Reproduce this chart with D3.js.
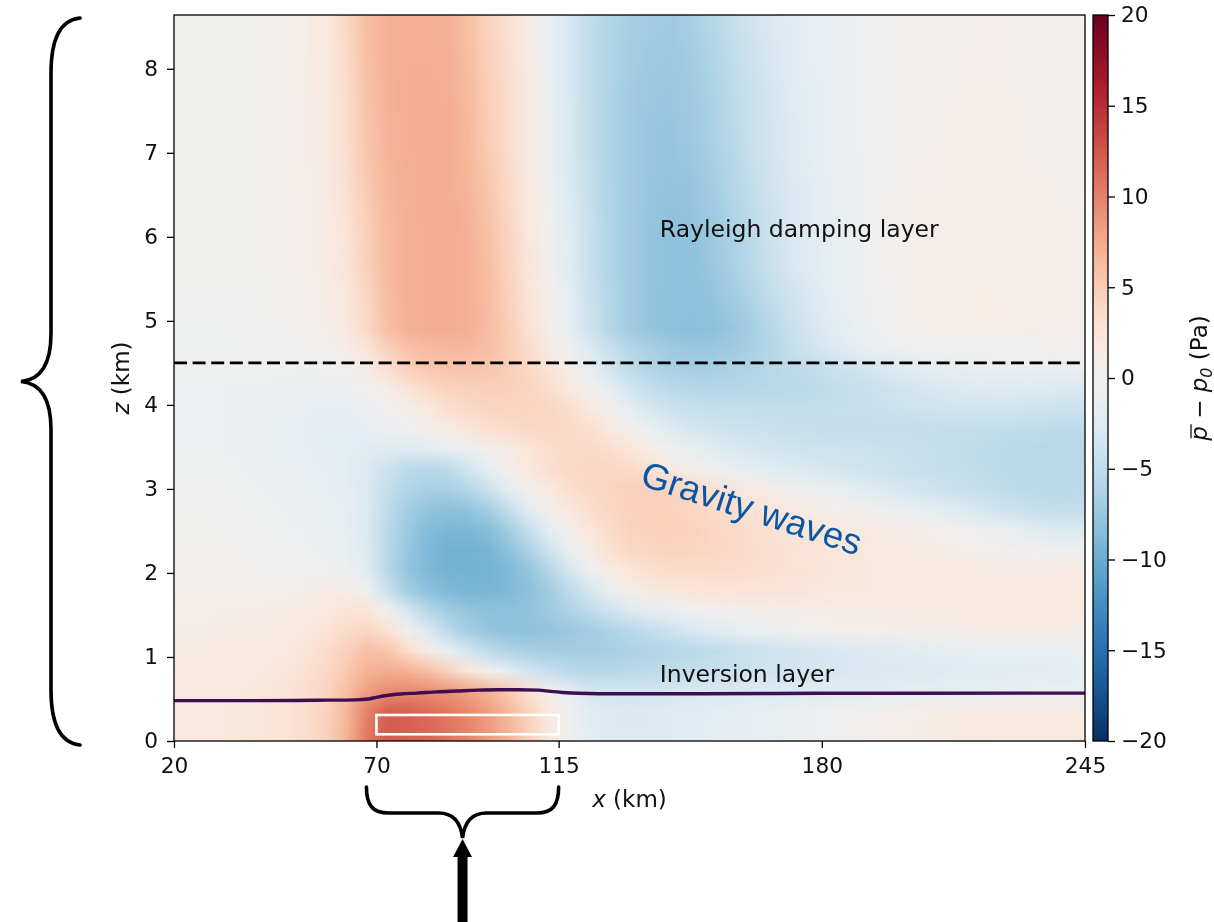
<!DOCTYPE html>
<html>
<head>
<meta charset="utf-8">
<title>Mean pressure perturbation</title>
<script src="https://cdn.jsdelivr.net/npm/d3@7"></script>
<style>
  html, body { margin: 0; padding: 0; background: #fff; overflow: hidden; }
  #wrap { position: relative; width: 1214px; height: 922px; }
  #heat { position: absolute; }
  #chart { position: absolute; left: 0; top: 0; }
</style>
</head>
<body>
<div id="wrap">
  <canvas id="heat"></canvas>
  <svg id="chart" width="1214" height="922"></svg>
</div>
<script>
// ---------------------------------------------------------------------------
// Data
// ---------------------------------------------------------------------------
// Cell centres of the pressure field along x (km)
const xKm = [22.5, 27.5, 32.5, 37.5, 42.5, 47.5, 52.5, 57.5, 62.5, 67.5,
  72.5, 77.5, 82.5, 87.5, 92.5, 97.5, 102.5, 107.5, 112.5, 117.5,
  122.5, 127.5, 132.5, 137.5, 142.5, 147.5, 152.5, 157.5, 162.5, 167.5,
  172.5, 177.5, 182.5, 187.5, 192.5, 197.5, 202.5, 207.5, 212.5, 217.5,
  222.5, 227.5, 232.5, 237.5, 242.5];

// Cell centres along z (km), from the model top downwards
const zKm = [8.52, 8.28, 8.04, 7.80, 7.56, 7.32, 7.08, 6.84, 6.60, 6.36,
  6.12, 5.88, 5.64, 5.40, 5.16, 4.92, 4.68, 4.44, 4.20, 3.96,
  3.72, 3.48, 3.24, 3.00, 2.76, 2.52, 2.28, 2.04, 1.80, 1.56,
  1.32, 1.08, 0.84, 0.60, 0.36, 0.12];

// Mean pressure perturbation p̄ − p0 (Pa); one row per zKm entry, one value per xKm entry
const pressureRows = [
  [-0.3,-0.3,-0.3,-0.2,0,0.4,1,2,3.8,6,7,7.2,7.2,7,6,4.3,3,1,-1.3,-3,-4.8,-5.9,-6.6,-7,-7.1,-6.6,-5.7,-4.7,-3.7,-2.9,-2.2,-1.6,-1.1,-0.7,-0.4,-0.1,0.2,0.3,0.3,0.4,0.4,0.4,0.3,0.3,0.2],
  [-0.3,-0.3,-0.3,-0.2,0,0.4,1,2,3.7,6,7,7.2,7.2,7,6.1,4.4,3.1,1.1,-1.2,-3,-4.9,-6,-6.7,-7.1,-7.2,-6.8,-5.9,-4.9,-3.9,-3,-2.3,-1.7,-1.1,-0.7,-0.4,-0.1,0.2,0.3,0.4,0.4,0.4,0.4,0.3,0.3,0.2],
  [-0.3,-0.3,-0.3,-0.2,0,0.4,0.9,1.9,3.6,5.9,7,7.2,7.2,7.1,6.2,4.5,3.2,1.2,-1.1,-3,-4.9,-6,-6.8,-7.2,-7.3,-7,-6.1,-5,-4.1,-3.1,-2.3,-1.7,-1.2,-0.7,-0.4,-0.1,0.2,0.3,0.4,0.4,0.4,0.4,0.3,0.3,0.2],
  [-0.3,-0.3,-0.3,-0.2,0,0.3,0.9,1.8,3.5,5.8,6.9,7.2,7.3,7.1,6.3,4.7,3.3,1.3,-1,-3,-4.8,-6,-6.9,-7.3,-7.4,-7,-6.3,-5.2,-4.2,-3.3,-2.4,-1.8,-1.2,-0.8,-0.4,-0.1,0.2,0.3,0.4,0.5,0.5,0.4,0.4,0.3,0.3],
  [-0.3,-0.3,-0.3,-0.2,0,0.3,0.8,1.8,3.4,5.7,6.9,7.2,7.3,7.2,6.4,4.8,3.3,1.4,-1,-2.9,-4.8,-6.1,-7,-7.4,-7.5,-7.1,-6.4,-5.3,-4.3,-3.4,-2.5,-1.8,-1.3,-0.8,-0.4,0,0.3,0.4,0.5,0.5,0.5,0.5,0.4,0.3,0.3],
  [-0.3,-0.3,-0.3,-0.2,0,0.3,0.8,1.7,3.3,5.6,6.8,7.2,7.3,7.2,6.5,4.9,3.4,1.5,-0.9,-2.9,-4.8,-6.1,-7,-7.5,-7.6,-7.2,-6.4,-5.4,-4.4,-3.5,-2.6,-1.9,-1.3,-0.8,-0.4,0,0.3,0.4,0.5,0.5,0.5,0.5,0.4,0.3,0.3],
  [-0.3,-0.3,-0.3,-0.2,0,0.3,0.8,1.7,3.2,5.5,6.8,7.2,7.3,7.2,6.5,5,3.4,1.5,-0.9,-2.9,-4.8,-6.1,-7,-7.5,-7.7,-7.3,-6.5,-5.5,-4.4,-3.5,-2.6,-1.9,-1.3,-0.8,-0.4,0,0.3,0.4,0.5,0.5,0.5,0.5,0.4,0.3,0.3],
  [-0.3,-0.3,-0.3,-0.2,0,0.3,0.7,1.6,3.1,5.3,6.7,7.1,7.3,7.2,6.6,5.2,3.6,1.6,-0.8,-2.8,-4.7,-6.1,-7,-7.5,-7.7,-7.5,-6.7,-5.7,-4.6,-3.6,-2.7,-2,-1.4,-0.9,-0.4,0,0.3,0.5,0.5,0.6,0.6,0.5,0.4,0.4,0.3],
  [-0.3,-0.3,-0.3,-0.2,0,0.3,0.7,1.5,3,5.1,6.6,7.1,7.3,7.2,6.7,5.4,3.8,1.8,-0.6,-2.7,-4.6,-6,-7,-7.6,-7.8,-7.7,-6.9,-5.8,-4.8,-3.7,-2.8,-2.1,-1.4,-0.9,-0.4,0,0.4,0.5,0.6,0.6,0.6,0.6,0.5,0.4,0.3],
  [-0.3,-0.3,-0.3,-0.2,0,0.2,0.6,1.4,2.8,4.9,6.5,7.1,7.3,7.3,6.8,5.6,3.9,1.9,-0.4,-2.5,-4.5,-6,-7,-7.6,-7.9,-7.7,-7.1,-6.1,-5,-3.9,-3,-2.2,-1.5,-0.9,-0.4,0.1,0.4,0.6,0.7,0.7,0.7,0.6,0.5,0.4,0.4],
  [-0.3,-0.3,-0.3,-0.3,0,0.2,0.6,1.3,2.7,4.7,6.4,7,7.3,7.3,6.9,5.8,4.1,2,-0.3,-2.3,-4.4,-5.9,-7,-7.7,-8,-7.9,-7.3,-6.3,-5.2,-4,-3,-2.2,-1.5,-0.9,-0.4,0.1,0.5,0.6,0.7,0.7,0.7,0.7,0.6,0.5,0.4],
  [-0.3,-0.3,-0.3,-0.3,-0.1,0.2,0.5,1.2,2.6,4.6,6.3,7,7.3,7.3,7,5.9,4.2,2.1,-0.1,-2.3,-4.4,-5.9,-7,-7.7,-8,-8,-7.4,-6.4,-5.3,-4.1,-3,-2.3,-1.5,-0.9,-0.4,0.1,0.5,0.7,0.8,0.8,0.8,0.7,0.6,0.5,0.4],
  [-0.3,-0.3,-0.3,-0.3,-0.1,0.2,0.5,1.2,2.5,4.5,6.3,7,7.3,7.3,7,6,4.3,2.2,0,-2.2,-4.4,-5.9,-7,-7.7,-8,-8,-7.5,-6.5,-5.4,-4.2,-3.1,-2.3,-1.5,-0.9,-0.4,0.1,0.5,0.7,0.8,0.8,0.8,0.7,0.6,0.5,0.4],
  [-0.3,-0.3,-0.3,-0.3,-0.2,0.1,0.4,1,2.2,4.2,6.2,7,7.3,7.3,7,6.1,4.5,2.4,0.2,-2,-4.2,-5.8,-7,-7.7,-8,-8.1,-7.7,-6.9,-5.8,-4.6,-3.6,-2.6,-1.7,-1,-0.5,0,0.5,0.7,0.8,0.9,0.9,0.8,0.7,0.5,0.4],
  [-0.4,-0.4,-0.4,-0.3,-0.2,0,0.3,0.9,2,4,6.1,7,7.3,7.3,7,6.2,4.6,2.6,0.4,-1.8,-4,-5.7,-7,-7.7,-8.1,-8.2,-7.9,-7.2,-6.3,-5,-3.9,-2.9,-2,-1.2,-0.5,0,0.5,0.7,0.9,1,1,0.9,0.8,0.6,0.5],
  [-0.4,-0.4,-0.4,-0.4,-0.3,-0.1,0.2,0.8,1.8,3.8,6,7,7.3,7.3,7,6.2,4.8,2.8,0.5,-1.7,-3.9,-5.7,-7,-7.7,-8.1,-8.3,-8.1,-7.6,-6.7,-5.5,-4.4,-3.2,-2.3,-1.4,-0.7,-0.1,0.4,0.7,0.9,1,1,0.9,0.8,0.6,0.5],
  [-0.5,-0.5,-0.5,-0.5,-0.5,-0.4,-0.2,0.2,1,2.5,4.5,5.8,6.3,6.5,6.5,6,5,3.5,1.5,-0.7,-2.6,-4.4,-5.7,-6.5,-7.1,-7.5,-7.5,-7.1,-6.5,-5.7,-4.6,-3.7,-2.8,-2,-1.3,-0.8,-0.5,-0.3,-0.2,-0.2,-0.2,-0.2,-0.2,-0.1,0],
  [-0.6,-0.6,-0.6,-0.6,-0.6,-0.6,-0.6,-0.5,0,1.2,3,4.5,5.3,5.6,5.6,5.4,4.8,3.8,2.5,0.8,-1.5,-3.5,-5,-6,-6.5,-6.7,-6.6,-6.3,-6,-5.6,-5.2,-4.8,-4.3,-3.8,-3.2,-2.6,-2.2,-1.8,-1.5,-1.3,-1.2,-1.2,-1.2,-1.2,-1.2],
  [-0.7,-0.7,-0.7,-0.7,-0.8,-0.9,-1,-1.1,-0.9,-0.2,1,2.5,3.6,4.3,4.6,4.7,4.6,4.2,3.3,2,0.3,-1.8,-3.5,-4.7,-5.3,-5.6,-5.7,-5.7,-5.6,-5.5,-5.4,-5.2,-4.9,-4.6,-4.2,-3.8,-3.4,-3.1,-2.8,-2.6,-2.5,-2.5,-2.6,-2.7,-2.8],
  [-0.7,-0.7,-0.8,-0.9,-1,-1.2,-1.4,-1.6,-1.5,-1,-0.2,0.8,2,3,3.7,4.1,4.3,4.3,4,3.2,1.8,0,-1.8,-3.2,-4,-4.4,-4.6,-4.7,-4.7,-4.7,-4.7,-4.7,-4.6,-4.5,-4.4,-4.2,-4,-3.8,-3.7,-3.6,-3.6,-3.7,-3.8,-4,-4.1],
  [-0.7,-0.7,-0.8,-0.9,-1.1,-1.3,-1.6,-1.9,-2,-1.8,-1,-0.2,0.5,1.4,2.3,3,3.5,3.8,3.9,3.7,3,1.8,0.3,-1.2,-2.4,-3.2,-3.6,-3.9,-4.1,-4.3,-4.5,-4.6,-4.7,-4.7,-4.7,-4.7,-4.7,-4.7,-4.7,-4.7,-4.8,-4.9,-5,-5.1,-5.2],
  [-0.6,-0.6,-0.7,-0.8,-1,-1.2,-1.5,-1.8,-2,-2.2,-2.5,-2.5,-2.2,-1.6,-0.8,0.2,1.3,2.4,3.2,3.6,3.6,3.2,2.3,1,-0.3,-1.4,-2.2,-2.8,-3.2,-3.5,-3.7,-3.9,-4,-4.1,-4.2,-4.3,-4.4,-4.6,-4.8,-5,-5.2,-5.4,-5.5,-5.6,-5.5],
  [-0.5,-0.5,-0.6,-0.7,-0.9,-1.1,-1.4,-1.7,-2,-2.7,-4,-5.2,-5.6,-5.1,-3.7,-1.7,0.4,2,3,3.7,4,4,3.6,2.8,1.7,0.6,-0.4,-1.2,-1.8,-2.3,-2.7,-3,-3.3,-3.6,-3.9,-4.1,-4.3,-4.5,-4.7,-4.9,-5.1,-5.3,-5.4,-5.5,-5.4],
  [-0.4,-0.4,-0.5,-0.6,-0.7,-0.9,-1.2,-1.5,-1.9,-2.8,-4.6,-5.9,-6.5,-6.5,-5.7,-4.1,-1.8,0.2,1.8,3,3.8,4.3,4.5,4.4,4.1,3.6,3,2.4,1.6,0.8,0,-0.7,-1.3,-1.9,-2.5,-3,-3.5,-3.9,-4.2,-4.5,-4.8,-5.1,-5.3,-5.4,-5.3],
  [-0.3,-0.3,-0.4,-0.5,-0.6,-0.7,-1,-1.3,-1.7,-2.8,-5,-6.8,-7.8,-8.1,-7.8,-6.8,-4.7,-2,0.3,2,3.2,4,4.5,4.6,4.5,4.1,3.6,3.1,2.7,2.2,1.6,1.1,0.6,0.2,-0.3,-0.8,-1.3,-1.8,-2.4,-3,-3.6,-4.1,-4.5,-4.7,-4.7],
  [-0.2,-0.2,-0.3,-0.4,-0.5,-0.6,-0.8,-1.1,-1.5,-2.8,-5.3,-7.2,-8.6,-9,-9,-8.4,-6.8,-4.5,-1.8,0.5,2.3,3.5,4.3,4.6,4.6,4.4,4,3.6,3.2,2.8,2.5,2.1,1.8,1.6,1.4,1.1,0.8,0.4,0,-0.5,-1.1,-1.7,-2.2,-2.6,-2.8],
  [-0.1,-0.1,-0.2,-0.3,-0.4,-0.5,-0.6,-0.9,-1.3,-2.6,-5.4,-7.5,-8.8,-9.5,-9.5,-9.2,-8.1,-6.3,-3.8,-1.1,1.2,2.8,3.8,4.2,4.3,4.2,4,3.7,3.4,3.1,2.8,2.5,2.2,2,1.8,1.6,1.4,1.2,1,0.7,0.4,0.1,-0.2,-0.4,-0.5],
  [0,0,0,-0.1,-0.2,-0.3,-0.4,-0.6,-1,-2.3,-5.4,-7.7,-8.8,-9.4,-9.5,-9.4,-8.8,-7.7,-5.8,-3.2,-0.7,1.2,2.4,3,3.3,3.4,3.4,3.3,3.2,3,2.8,2.6,2.4,2.2,2,1.9,1.8,1.7,1.6,1.6,1.5,1.5,1.4,1.4,1.3],
  [0.4,0.4,0.5,0.5,0.6,0.7,0.9,1.1,1.1,-0.5,-4.1,-6.8,-8.1,-8.8,-9.2,-9.2,-8.8,-8.1,-7,-5.2,-3.2,-1.1,0.6,1.7,2.2,2.4,2.5,2.5,2.5,2.4,2.3,2.2,2.1,2,1.9,1.8,1.8,1.7,1.7,1.7,1.7,1.7,1.6,1.6,1.6],
  [0.7,0.7,0.8,0.9,1,1.1,1.4,1.9,2.6,2.3,0,-3.2,-5.6,-7,-7.7,-8.1,-8.1,-7.8,-7.2,-6.1,-5,-3.8,-2.7,-2,-1.2,-0.5,0,0.3,0.5,0.7,0.9,1,1.1,1.2,1.3,1.4,1.5,1.6,1.7,1.8,1.8,1.8,1.8,1.8,1.8],
  [1,1,1.1,1.2,1.3,1.5,1.9,2.6,3.5,4,2.8,0.2,-2.8,-5.2,-6.8,-7.6,-8,-8,-7.8,-7.4,-6.9,-6.2,-5.5,-4.7,-3.9,-3.1,-2.4,-1.8,-1.3,-0.9,-0.5,-0.2,0,0.2,0.4,0.5,0.6,0.7,0.8,0.9,1,1,1,1,1],
  [1.3,1.3,1.4,1.5,1.7,2,2.5,3.3,4.5,6,5.5,3.5,1,-1.5,-3.5,-5,-6,-6.5,-6.7,-6.8,-6.8,-6.6,-6.3,-6,-5.7,-5.4,-5,-4.6,-4.2,-3.9,-3.6,-3.3,-3,-2.8,-2.6,-2.4,-2.2,-2,-1.8,-1.7,-1.6,-1.5,-1.4,-1.4,-1.3],
  [1.6,1.6,1.7,1.8,2,2.3,2.9,3.8,5.2,6.8,7.3,7,6,4.3,2.2,0,-2,-3.5,-4.5,-5.3,-5.6,-5.6,-5.4,-5.1,-4.8,-4.6,-4.4,-4.2,-4,-3.8,-3.6,-3.4,-3.2,-3,-2.9,-2.8,-2.7,-2.6,-2.5,-2.4,-2.3,-2.2,-2.2,-2.1,-2],
  [1.8,1.8,1.9,2,2.2,2.6,3.2,4.2,6,8.2,9.3,9.5,9.3,8.8,8,6.8,5,2.8,0.5,-1.8,-3.2,-3.6,-3.6,-3.5,-3.3,-3.1,-2.9,-2.8,-2.7,-2.6,-2.5,-2.4,-2.3,-2.2,-2.1,-2,-1.9,-1.8,-1.7,-1.6,-1.5,-1.4,-1.3,-1.2,-1.1],
  [1.9,1.9,2,2.1,2.3,2.7,3.3,4.3,6.5,10,11.8,11.8,11.2,10.5,9.5,8.2,6.5,4.3,1.8,-0.5,-2.2,-2.7,-2.8,-2.7,-2.5,-2.3,-2.1,-1.9,-1.7,-1.4,-1.1,-0.8,-0.5,-0.2,0.1,0.4,0.7,1,1.2,1.4,1.5,1.6,1.6,1.6,1.6],
  [1.9,1.9,2,2.1,2.3,2.7,3.3,4.4,6.8,10.5,12.2,12,11.5,10.8,9.8,8.5,6.8,4.5,2,-0.3,-2,-2.6,-2.7,-2.6,-2.4,-2.2,-2,-1.8,-1.6,-1.3,-1,-0.7,-0.4,-0.1,0.2,0.5,0.8,1.1,1.3,1.5,1.6,1.7,1.7,1.7,1.7]
];

// Height of the inversion (km) along x (km)
const inversionX = [20, 40, 55, 65, 68, 70, 73, 76, 80, 85, 90, 95, 100, 105, 110, 113, 116, 120, 130, 150, 180, 245];
const inversionZ = [0.48, 0.48, 0.485, 0.49, 0.50, 0.52, 0.545, 0.56, 0.57, 0.585, 0.595, 0.605, 0.61, 0.61, 0.605, 0.59, 0.578, 0.568, 0.562, 0.562, 0.568, 0.57];

// Base of the Rayleigh damping layer (km)
const dampingBaseKm = [4.5];

// Forcing region: x extent (km) and z extent (km)
const forcingX = [70, 115];
const forcingZ = [0.08, 0.31];

const xTickValues = [20, 70, 115, 180, 245];
const zTickValues = [0, 1, 2, 3, 4, 5, 6, 7, 8];
const colorTickValues = [-20, -15, -10, -5, 0, 5, 10, 15, 20];
const xDomain = [20, 245];
const zDomain = [0, 8.64];
const colorDomain = [-20, 20];

// ---------------------------------------------------------------------------
// Scales
// ---------------------------------------------------------------------------
const plot = { left: 174, right: 1085, top: 15, bottom: 741 };
const x = d3.scaleLinear().domain(xDomain).range([plot.left, plot.right]);
const y = d3.scaleLinear().domain(zDomain).range([plot.bottom, plot.top]);
const color = d3.scaleSequential(d3.interpolateRdBu).domain([colorDomain[1], colorDomain[0]]);

const TEXT_FONT = '"DejaVu Sans", "Liberation Sans", sans-serif';
const INK = '#111';

// ---------------------------------------------------------------------------
// Pressure field: one texel per cell, scaled smoothly onto the axes
// ---------------------------------------------------------------------------
(function drawField() {
  const nx = xKm.length, nz = zKm.length;
  const dx = xKm[1] - xKm[0];
  const dz = zKm[0] - zKm[1];
  const small = document.createElement('canvas');
  small.width = nx; small.height = nz;
  const sctx = small.getContext('2d');
  const img = sctx.createImageData(nx, nz);
  pressureRows.forEach((row, j) => {
    row.forEach((v, i) => {
      const c = d3.rgb(color(v));
      const k = (j * nx + i) * 4;
      img.data[k] = c.r; img.data[k + 1] = c.g; img.data[k + 2] = c.b; img.data[k + 3] = 255;
    });
  });
  sctx.putImageData(img, 0, 0);

  const x0 = x(xKm[0] - dx / 2), x1 = x(xKm[nx - 1] + dx / 2);
  const y0 = y(zKm[0] + dz / 2), y1 = y(zKm[nz - 1] - dz / 2);
  const cv = document.getElementById('heat');
  const w = Math.round(x1 - x0), h = Math.round(y1 - y0);
  cv.width = w; cv.height = h;
  cv.style.left = x0 + 'px';
  cv.style.top = y0 + 'px';
  cv.style.width = w + 'px';
  cv.style.height = h + 'px';
  const ctx = cv.getContext('2d');
  ctx.imageSmoothingEnabled = true;
  ctx.imageSmoothingQuality = 'low';
  ctx.drawImage(small, 0, 0, w, h);
})();

// ---------------------------------------------------------------------------
// Overlay
// ---------------------------------------------------------------------------
const svg = d3.select('#chart');
const defs = svg.append('defs');

// Inversion height
svg.append('path')
  .datum(inversionX.map((d, i) => [d, inversionZ[i]]))
  .attr('d', d3.line().x(d => x(d[0])).y(d => y(d[1])).curve(d3.curveMonotoneX))
  .attr('fill', 'none')
  .attr('stroke', '#3f0d52')
  .attr('stroke-width', 3.4);

// Forcing region outline
svg.append('rect')
  .attr('x', x(forcingX[0]))
  .attr('y', y(forcingZ[1]))
  .attr('width', x(forcingX[1]) - x(forcingX[0]))
  .attr('height', y(forcingZ[0]) - y(forcingZ[1]))
  .attr('fill', 'none')
  .attr('stroke', '#fff')
  .attr('stroke-width', 2.6);

// Damping layer base
svg.selectAll('line.damping')
  .data(dampingBaseKm)
  .join('line')
  .attr('class', 'damping')
  .attr('x1', x(xDomain[0])).attr('x2', x(xDomain[1]))
  .attr('y1', d => y(d)).attr('y2', d => y(d))
  .attr('stroke', '#000')
  .attr('stroke-width', 2.8)
  .attr('stroke-dasharray', '13,5.6');

// Annotations
svg.append('text')
  .attr('x', x(140)).attr('y', y(6.0))
  .attr('font-family', TEXT_FONT).attr('font-size', 23.5).attr('fill', INK)
  .text('Rayleigh damping layer');

svg.append('text')
  .attr('x', x(140)).attr('y', y(0.7))
  .attr('font-family', TEXT_FONT).attr('font-size', 23.5).attr('fill', INK)
  .text('Inversion layer');

svg.append('text')
  .attr('transform', `translate(${x(134.8)},${y(3.05)}) rotate(18)`)
  .attr('font-family', '"Liberation Sans", Arial, sans-serif')
  .attr('font-size', 36.5)
  .attr('fill', '#0b56a2')
  .text('Gravity waves');

// Frame
svg.append('rect')
  .attr('x', x(xDomain[0])).attr('y', y(zDomain[1]))
  .attr('width', x(xDomain[1]) - x(xDomain[0]))
  .attr('height', y(zDomain[0]) - y(zDomain[1]))
  .attr('fill', 'none').attr('stroke', '#000').attr('stroke-width', 1.3);

function styleAxis(g, size) {
  g.select('.domain').remove();
  g.attr('font-family', TEXT_FONT).attr('font-size', size).attr('color', '#000');
  g.selectAll('.tick line').attr('stroke-width', 1.3);
  g.selectAll('.tick text').attr('fill', INK);
}

svg.append('g')
  .attr('transform', `translate(0,${y(0)})`)
  .call(d3.axisBottom(x).tickValues(xTickValues).tickSize(7).tickPadding(10).tickFormat(d3.format('d')))
  .call(g => styleAxis(g, 21.7));

svg.append('g')
  .attr('transform', `translate(${x(xDomain[0])},0)`)
  .call(d3.axisLeft(y).tickValues(zTickValues).tickSize(7).tickPadding(9).tickFormat(d3.format('d')))
  .call(g => styleAxis(g, 21.7));

// Axis titles
const xt = svg.append('text')
  .attr('x', (x(xDomain[0]) + x(xDomain[1])) / 2).attr('y', 807)
  .attr('text-anchor', 'middle')
  .attr('font-family', TEXT_FONT).attr('font-size', 23).attr('fill', INK);
xt.append('tspan').attr('font-style', 'italic').text('x');
xt.append('tspan').text(' (km)');

const zt = svg.append('text')
  .attr('transform', `translate(129,${(y(zDomain[0]) + y(zDomain[1])) / 2}) rotate(-90)`)
  .attr('text-anchor', 'middle')
  .attr('font-family', TEXT_FONT).attr('font-size', 23).attr('fill', INK);
zt.append('tspan').attr('font-style', 'italic').text('z');
zt.append('tspan').text(' (km)');

// ---------------------------------------------------------------------------
// Colour bar
// ---------------------------------------------------------------------------
const cb = { left: 1093, width: 15 };
const cbScale = d3.scaleLinear().domain(colorDomain).range([plot.bottom, plot.top]);
const grad = defs.append('linearGradient')
  .attr('id', 'cbGrad').attr('x1', 0).attr('y1', 1).attr('x2', 0).attr('y2', 0);
grad.selectAll('stop')
  .data(d3.range(colorDomain[0], colorDomain[1] + 0.001, 0.5))
  .join('stop')
  .attr('offset', d => (d - colorDomain[0]) / (colorDomain[1] - colorDomain[0]))
  .attr('stop-color', d => color(d));

svg.append('rect')
  .attr('x', cb.left).attr('y', cbScale(colorDomain[1]))
  .attr('width', cb.width).attr('height', cbScale(colorDomain[0]) - cbScale(colorDomain[1]))
  .attr('fill', 'url(#cbGrad)')
  .attr('stroke', '#000').attr('stroke-width', 1.3);

svg.append('g')
  .attr('transform', `translate(${cb.left + cb.width},0)`)
  .call(d3.axisRight(cbScale).tickValues(colorTickValues).tickSize(7).tickPadding(6))
  .call(g => styleAxis(g, 21.7));

// Colour bar title: p̄ − p0 (Pa)
const cbt = svg.append('g')
  .attr('transform', `translate(1207,${(plot.top + plot.bottom) / 2}) rotate(-90)`);
const cbText = cbt.append('text')
  .attr('text-anchor', 'middle')
  .attr('font-family', TEXT_FONT).attr('font-size', 23).attr('fill', INK);
cbText.append('tspan').attr('font-style', 'italic').text('p');
cbText.append('tspan').text(' \u2212 ');
cbText.append('tspan').attr('font-style', 'italic').text('p');
cbText.append('tspan').attr('font-style', 'italic').attr('font-size', 16).attr('dy', 5).text('0');
cbText.append('tspan').attr('dy', -5).text(' (Pa)');
{
  const node = cbText.node();
  const s = node.getStartPositionOfChar(0);
  const e = node.getEndPositionOfChar(0);
  cbt.append('line')
    .attr('x1', s.x + 2.5).attr('x2', e.x + 2)
    .attr('y1', -16).attr('y2', -16)
    .attr('stroke', INK).attr('stroke-width', 1.3);
}

// ---------------------------------------------------------------------------
// Braces and arrow marking the vertical domain and the forcing region
// ---------------------------------------------------------------------------
const braceStroke = { fill: 'none', stroke: '#000', 'stroke-width': 3.6, 'stroke-linecap': 'round' };

// Left brace spanning the full height of the domain
{
  const top = y(zDomain[1]) + 3, bot = y(zDomain[0]) + 4, mid = (top + bot) / 2;
  const xe = 80, xv = 51, xt0 = 21;
  const p = d3.path();
  p.moveTo(xe, top);
  p.bezierCurveTo(60, top + 2, xv, top + 22, xv, top + 55);
  p.lineTo(xv, mid - 48);
  p.bezierCurveTo(xv, mid - 22, 44, mid - 2, xt0, mid);
  p.bezierCurveTo(44, mid + 2, xv, mid + 22, xv, mid + 48);
  p.lineTo(xv, bot - 55);
  p.bezierCurveTo(xv, bot - 22, 60, bot - 2, xe, bot);
  const path = svg.append('path').attr('d', p.toString());
  Object.entries(braceStroke).forEach(([k, v]) => path.attr(k, v));
}

// Bottom brace under the forcing region
{
  const xl = x(forcingX[0]) - 10, xr = x(forcingX[1]), xm = (xl + xr) / 2;
  const yTop = 787, yBar = 813, yTip = 838;
  const p = d3.path();
  p.moveTo(xl, yTop);
  p.bezierCurveTo(xl, yBar - 8, xl + 6, yBar, xl + 22, yBar);
  p.lineTo(xm - 24, yBar);
  p.bezierCurveTo(xm - 10, yBar, xm - 2, yBar + 8, xm, yTip);
  p.bezierCurveTo(xm + 2, yBar + 8, xm + 10, yBar, xm + 24, yBar);
  p.lineTo(xr - 22, yBar);
  p.bezierCurveTo(xr - 6, yBar, xr, yBar - 8, xr, yTop);
  const path = svg.append('path').attr('d', p.toString());
  Object.entries(braceStroke).forEach(([k, v]) => path.attr(k, v));

  // Upward arrow into the brace
  const a = d3.path();
  a.moveTo(xm, 839);
  a.lineTo(xm + 9.5, 857);
  a.lineTo(xm + 5, 857);
  a.lineTo(xm + 5, 922);
  a.lineTo(xm - 5, 922);
  a.lineTo(xm - 5, 857);
  a.lineTo(xm - 9.5, 857);
  a.closePath();
  svg.append('path').attr('d', a.toString()).attr('fill', '#000');
}
</script>
</body>
</html>
